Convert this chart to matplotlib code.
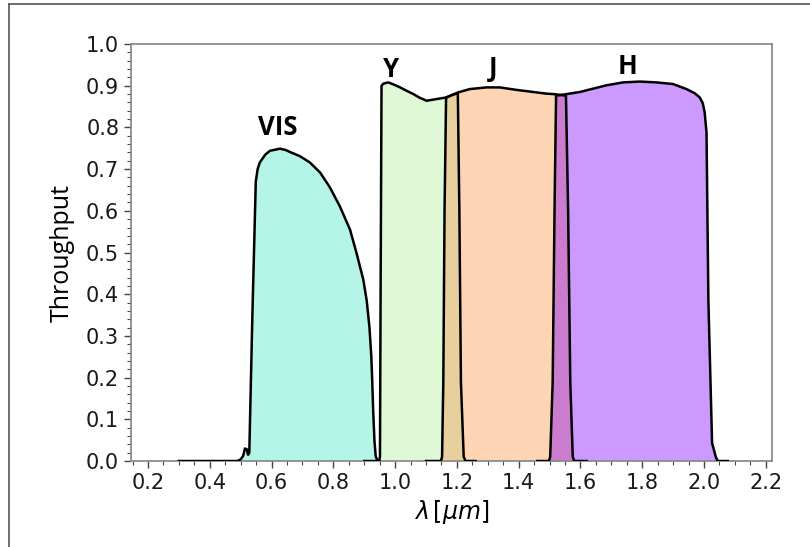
import numpy as np
import matplotlib
matplotlib.use("Agg")
import matplotlib.pyplot as plt
from matplotlib.ticker import MultipleLocator
from matplotlib.lines import Line2D

# filter throughput curves (wavelength in micron, throughput)
vis_wl = [0.30, 0.49, 0.50, 0.508, 0.514, 0.520, 0.524, 0.528, 0.538, 0.549, 0.555,
          0.562, 0.58, 0.595, 0.627, 0.645, 0.660, 0.692, 0.724, 0.757, 0.789,
          0.821, 0.854, 0.875, 0.897, 0.908, 0.917, 0.923, 0.926, 0.929, 0.933,
          0.937, 0.943, 0.95]
vis_tp = [0.0, 0.0, 0.004, 0.012, 0.03, 0.028, 0.015, 0.02, 0.35, 0.67, 0.70,
          0.716, 0.735, 0.744, 0.749, 0.746, 0.741, 0.731, 0.716, 0.692, 0.656,
          0.611, 0.555, 0.499, 0.435, 0.385, 0.32, 0.25, 0.19, 0.12, 0.05,
          0.012, 0.0, 0.0]

y_wl = [0.90, 0.948, 0.951, 0.953, 0.956, 0.962, 0.978, 0.995, 1.016, 1.037, 1.059,
        1.080, 1.102, 1.118, 1.134, 1.150, 1.167, 1.185, 1.203, 1.208, 1.213,
        1.222, 1.228, 1.26]
y_tp = [0.0, 0.0, 0.01, 0.4, 0.90, 0.905, 0.908, 0.903, 0.896, 0.888, 0.880,
        0.871, 0.864, 0.866, 0.868, 0.870, 0.872, 0.878, 0.882, 0.60, 0.19,
        0.01, 0.0, 0.0]

j_wl = [1.10, 1.148, 1.152, 1.156, 1.160, 1.165, 1.185, 1.204, 1.242, 1.296, 1.339,
        1.393, 1.447, 1.490, 1.512, 1.535, 1.553, 1.560, 1.567, 1.575, 1.58, 1.62]
j_tp = [0.0, 0.0, 0.01, 0.19, 0.60, 0.872, 0.878, 0.884, 0.892, 0.896, 0.896,
        0.890, 0.885, 0.881, 0.880, 0.878, 0.876, 0.60, 0.19, 0.01, 0.0, 0.0]

h_wl = [1.46, 1.498, 1.502, 1.510, 1.516, 1.521, 1.555, 1.598, 1.641, 1.684, 1.738,
        1.792, 1.846, 1.900, 1.943, 1.970, 1.986, 1.996, 2.002, 2.008, 2.014,
        2.026, 2.038, 2.044, 2.077]
h_tp = [0.0, 0.0, 0.01, 0.19, 0.60, 0.876, 0.880, 0.885, 0.893, 0.901, 0.908,
        0.910, 0.908, 0.904, 0.892, 0.882, 0.872, 0.858, 0.836, 0.788, 0.387,
        0.043, 0.01, 0.0, 0.0]

names = ["VIS", "Y", "J", "H"]
label_pos = [(0.62, 0.80), (0.986, 0.94), (1.317, 0.942), (1.753, 0.945)]
colors = ["#b5f5e8", "#dff8d6", "#fdd5b4", "#cc99fe"]

fig = plt.figure(figsize=(8.1, 5.47), dpi=100)
ax = fig.add_axes([0.1617, 0.1572, 0.7914, 0.7623])

curves = [(vis_wl, vis_tp), (y_wl, y_tp), (j_wl, j_tp), (h_wl, h_tp)]
for (wl, tp), c in zip(curves, colors):
    ax.fill_between(wl, tp, color=c, lw=0, zorder=1)

# overlapping parts of neighbouring bands
grid = np.linspace(0.9, 2.1, 4000)
yi = np.interp(grid, y_wl, y_tp, left=0, right=0)
ji = np.interp(grid, j_wl, j_tp, left=0, right=0)
hi = np.interp(grid, h_wl, h_tp, left=0, right=0)
ax.fill_between(grid, np.minimum(yi, ji), color="#e8cf9e", lw=0, zorder=2)
ax.fill_between(grid, np.minimum(ji, hi), color="#cc7ccf", lw=0, zorder=2)

for wl, tp in curves:
    ax.plot(wl, tp, color="black", lw=1.8, zorder=3)

for n, (px, py) in zip(names, label_pos):
    ax.text(px, py, n, ha="center", va="center", fontsize=18.5,
            fontweight="bold", family="Open Sans", zorder=4)

ax.set_xlim(0.145, 2.22)
ax.set_ylim(0, 1.0)
ax.xaxis.set_major_locator(MultipleLocator(0.2))
ax.xaxis.set_minor_locator(MultipleLocator(0.05))
ax.yaxis.set_major_locator(MultipleLocator(0.1))
ax.yaxis.set_minor_locator(MultipleLocator(0.02))
ax.tick_params(which="both", direction="out", colors="#444444", labelcolor="#1a1a1a",
               labelsize=15)
ax.tick_params(which="major", length=5, width=1)
ax.tick_params(which="minor", length=3, width=0.8)
for s in ax.spines.values():
    s.set_color("#8c8c8c")
    s.set_linewidth(1.3)

ax.set_ylabel("Throughput", family="Open Sans", fontsize=18, labelpad=8)
ax.set_xlabel(r"$\lambda\,[\mu m]$", fontsize=17, labelpad=4)

# outer frame lines on top and left
fig.add_artist(Line2D([9 / 810, 9 / 810], [0, 1 - 4 / 547], color="#555555", lw=1.2))
fig.add_artist(Line2D([9 / 810, 1], [1 - 4 / 547, 1 - 4 / 547], color="#555555", lw=1.2))

fig.savefig("out.png", dpi=100)
